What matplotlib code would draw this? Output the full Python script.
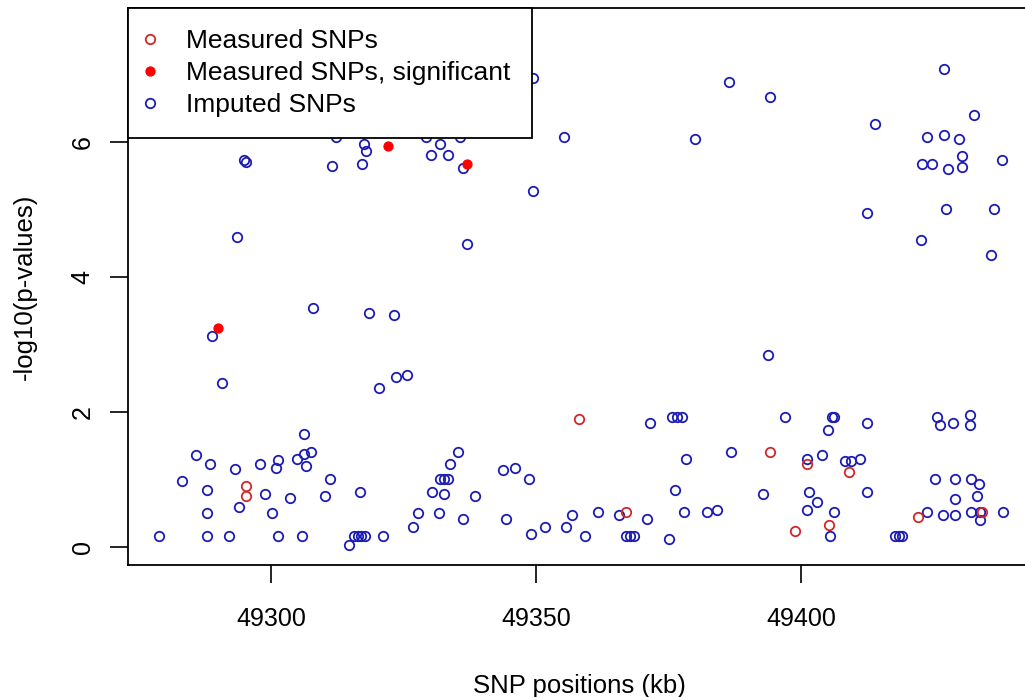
import matplotlib
matplotlib.use("Agg")
import matplotlib.pyplot as plt
from matplotlib.lines import Line2D

plt.rcParams['font.family'] = ['Liberation Sans', 'DejaVu Sans']

# imputed SNPs: position (kb) and -log10(p)
imputed_pos = [
    49312.3, 49317.5, 49318.0, 49329.2, 49331.8, 49335.7, 49330.1, 49333.3, 49336.2, 49294.8,
    49295.2, 49311.5, 49317.2, 49293.6, 49337.0, 49307.9, 49318.4, 49323.2, 49288.8, 49349.5,
    49355.3, 49349.5, 49386.4, 49394.2, 49380.0, 49426.9, 49432.7, 49414.0, 49423.7, 49426.9,
    49429.8, 49430.3, 49430.3, 49422.9, 49424.7, 49427.8, 49438.0, 49412.4, 49427.4, 49436.4,
    49422.6, 49435.9, 49393.8, 49290.8, 49320.4, 49323.5, 49325.7, 49306.2, 49285.9, 49288.4,
    49293.2, 49298.0, 49301.3, 49300.9, 49304.9, 49306.2, 49307.5, 49306.6, 49283.1, 49287.9,
    49298.9, 49303.6, 49310.2, 49311.1, 49316.7, 49294.0, 49287.9, 49300.1, 49278.9, 49287.9,
    49292.0, 49301.3, 49305.8, 49314.7, 49315.6, 49316.4, 49317.0, 49317.8, 49321.1, 49326.8,
    49327.7, 49331.7, 49330.4, 49332.6, 49331.8, 49332.6, 49333.3, 49333.7, 49335.3, 49336.2,
    49338.5, 49343.8, 49346.0, 49348.7, 49344.3, 49349.1, 49351.6, 49355.7, 49356.8, 49359.3,
    49361.7, 49365.7, 49367.0, 49367.7, 49368.5, 49371.0, 49375.1, 49377.9, 49382.3, 49384.1,
    49371.5, 49375.7, 49376.5, 49377.5, 49397.0, 49378.3, 49386.8, 49376.3, 49392.9, 49405.8,
    49406.3, 49405.1, 49412.4, 49425.6, 49426.2, 49428.6, 49431.9, 49431.9, 49401.1, 49403.9,
    49408.3, 49409.4, 49411.1, 49401.5, 49403.1, 49401.1, 49406.3, 49405.5, 49412.4, 49417.7,
    49418.4, 49419.1, 49423.7, 49425.3, 49429.1, 49432.0, 49433.6, 49429.1, 49433.2, 49426.8,
    49429.1, 49432.0, 49433.8, 49433.8, 49438.1,
]
imputed_logp = [
    6.07, 5.97, 5.87, 6.07, 5.97, 6.07, 5.81, 5.81, 5.61, 5.73,
    5.71, 5.64, 5.68, 4.59, 4.49, 3.54, 3.47, 3.44, 3.12, 6.95,
    6.07, 5.28, 6.89, 6.66, 6.04, 7.08, 6.40, 6.26, 6.07, 6.10,
    6.04, 5.79, 5.63, 5.67, 5.67, 5.60, 5.73, 4.95, 5.01, 5.01,
    4.55, 4.33, 2.85, 2.43, 2.36, 2.52, 2.55, 1.67, 1.37, 1.23,
    1.15, 1.23, 1.29, 1.17, 1.31, 1.38, 1.41, 1.20, 0.98, 0.85,
    0.78, 0.72, 0.75, 1.01, 0.81, 0.59, 0.51, 0.51, 0.16, 0.16,
    0.16, 0.16, 0.16, 0.03, 0.16, 0.16, 0.16, 0.16, 0.16, 0.29,
    0.51, 0.51, 0.81, 0.78, 1.01, 1.01, 1.01, 1.23, 1.41, 0.42,
    0.75, 1.14, 1.17, 1.01, 0.42, 0.19, 0.29, 0.29, 0.48, 0.16,
    0.52, 0.48, 0.16, 0.16, 0.16, 0.42, 0.12, 0.52, 0.52, 0.55,
    1.83, 1.93, 1.93, 1.93, 1.93, 1.30, 1.40, 0.84, 0.79, 1.93,
    1.93, 1.74, 1.83, 1.93, 1.80, 1.83, 1.96, 1.80, 1.31, 1.37,
    1.27, 1.27, 1.30, 0.81, 0.66, 0.55, 0.52, 0.16, 0.81, 0.16,
    0.16, 0.16, 0.52, 1.01, 1.01, 1.01, 0.94, 0.71, 0.75, 0.48,
    0.48, 0.52, 0.52, 0.40, 0.52,
]

# measured SNPs (not significant)
measured_pos = [49295.3, 49295.3, 49358.1, 49367.0, 49398.9, 49394.2,
                49401.1, 49409.1, 49405.2, 49422.0, 49434.2]
measured_logp = [0.91, 0.76, 1.90, 0.52, 0.24, 1.40,
                 1.23, 1.11, 0.33, 0.45, 0.52]

# measured SNPs, significant
signif_pos = [49322.0, 49337.0, 49289.9]
signif_logp = [5.94, 5.68, 3.24]

legend_labels = ['Measured SNPs', 'Measured SNPs, significant', 'Imputed SNPs']
x_ticks = [49300, 49350, 49400]
y_ticks = [0, 2, 4, 6]

blue = '#1c1cb4'
red_open = '#d02828'
red_fill = '#ff0000'

fig = plt.figure(figsize=(10.25, 6.97), dpi=100)
ax = fig.add_axes([128 / 1025, 132 / 697, 902 / 1025, 557 / 697])

ax.plot(imputed_pos, imputed_logp, 'o', mfc='none', mec=blue, ms=6.8, mew=1.3, ls='none')
ax.plot(measured_pos, measured_logp, 'o', mfc='none', mec=red_open, ms=6.8, mew=1.3, ls='none')
ax.plot(signif_pos, signif_logp, 'o', mfc=red_fill, mec=red_fill, ms=6.4, mew=1.0, ls='none')

ax.set_xlim(49273.0, 49443.2)
ax.set_ylim(-0.267, 7.985)

ax.set_xticks(x_ticks)
ax.set_yticks(y_ticks)
ax.set_xticklabels([str(t) for t in x_ticks])
ax.set_yticklabels([str(t) for t in y_ticks], rotation=90, va='center')
ax.tick_params(axis='both', direction='out', length=13, width=1.2, labelsize=18, color='black')
ax.tick_params(axis='x', pad=17)
ax.tick_params(axis='y', pad=11)

for side in ['left', 'bottom', 'top', 'right']:
    ax.spines[side].set_linewidth(1.3)
    ax.spines[side].set_color('black')

ax.set_xlabel('SNP positions (kb)', fontsize=18.5, labelpad=31)
ax.set_ylabel('-log10(p-values)', fontsize=18.5, labelpad=24)

handles = [
    Line2D([], [], marker='o', ls='none', mfc='none', mec=red_open, ms=6.8, mew=1.3),
    Line2D([], [], marker='o', ls='none', mfc=red_fill, mec=red_fill, ms=6.4, mew=1.0),
    Line2D([], [], marker='o', ls='none', mfc='none', mec=blue, ms=6.8, mew=1.3),
]
leg = ax.legend(handles, legend_labels, loc='upper left', bbox_to_anchor=(0, 1),
                borderaxespad=0, fontsize=19, frameon=True, fancybox=False,
                framealpha=1, edgecolor='black', handlelength=0.1,
                handletextpad=1.3, borderpad=0.8, labelspacing=0.3)
leg.get_frame().set_linewidth(1.3)

fig.savefig('out.png', dpi=100)
